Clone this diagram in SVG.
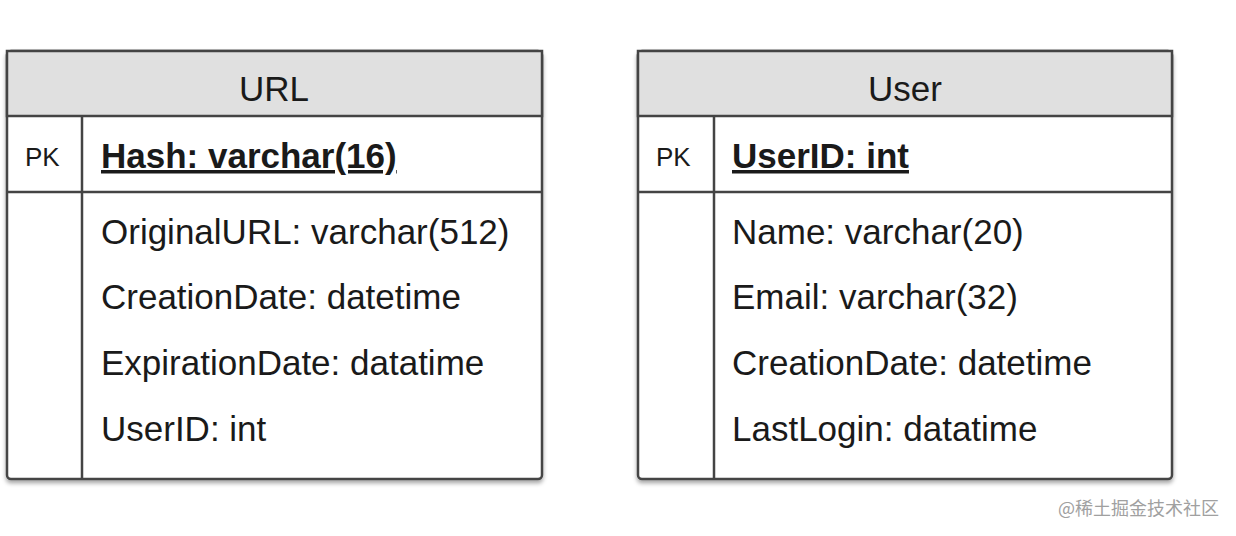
<svg xmlns="http://www.w3.org/2000/svg" width="1236" height="536" viewBox="0 0 1236 536">
<style>
.box{fill:#fff;stroke:#444;stroke-width:2.5}
.hdr{fill:#e0e0e0;stroke:#444;stroke-width:2.5}
.ln{stroke:#444;stroke-width:2.5;fill:none}
.t{font-family:"Liberation Sans",Arial,sans-serif;fill:#1a1a1a}
.title{font-size:35px;text-anchor:middle}
.pk{font-size:26px}
.key{font-size:35px;font-weight:bold;text-decoration:underline}
.f{font-size:35px}
.wm{font-family:"Noto Sans CJK SC",sans-serif;font-size:18px;fill:#a0a0a0}
</style>
<defs>
<filter id="sh" x="-5%" y="-5%" width="110%" height="115%">
<feDropShadow dx="0" dy="3" stdDeviation="2" flood-color="#000" flood-opacity="0.35"/>
</filter>
</defs>
<g id="url">
<rect class="box" x="7" y="51" width="535" height="428" rx="4" filter="url(#sh)"/>
<rect class="hdr" x="7" y="51" width="535" height="65"/>
<line class="ln" x1="7" y1="192" x2="542" y2="192"/>
<line class="ln" x1="82" y1="116" x2="82" y2="479"/>
<text class="t title" x="274" y="101">URL</text>
<text class="t pk" x="25" y="166">PK</text>
<text class="t key" x="101" y="168">Hash: varchar(16)</text>
<text class="t f" x="101" y="244">OriginalURL: varchar(512)</text>
<text class="t f" x="101" y="309">CreationDate: datetime</text>
<text class="t f" x="101" y="375">ExpirationDate: datatime</text>
<text class="t f" x="101" y="441">UserID: int</text>
</g>
<g id="user">
<rect class="box" x="638" y="51" width="534" height="428" rx="4" filter="url(#sh)"/>
<rect class="hdr" x="638" y="51" width="534" height="65"/>
<line class="ln" x1="638" y1="192" x2="1172" y2="192"/>
<line class="ln" x1="714" y1="116" x2="714" y2="479"/>
<text class="t title" x="905" y="101">User</text>
<text class="t pk" x="656" y="166">PK</text>
<text class="t key" x="732" y="168">UserID: int</text>
<text class="t f" x="732" y="244">Name: varchar(20)</text>
<text class="t f" x="732" y="309">Email: varchar(32)</text>
<text class="t f" x="732" y="375">CreationDate: datetime</text>
<text class="t f" x="732" y="441">LastLogin: datatime</text>
</g>
<g id="connectors"></g>
<text class="wm" x="1058" y="515">@稀土掘金技术社区</text>
</svg>
